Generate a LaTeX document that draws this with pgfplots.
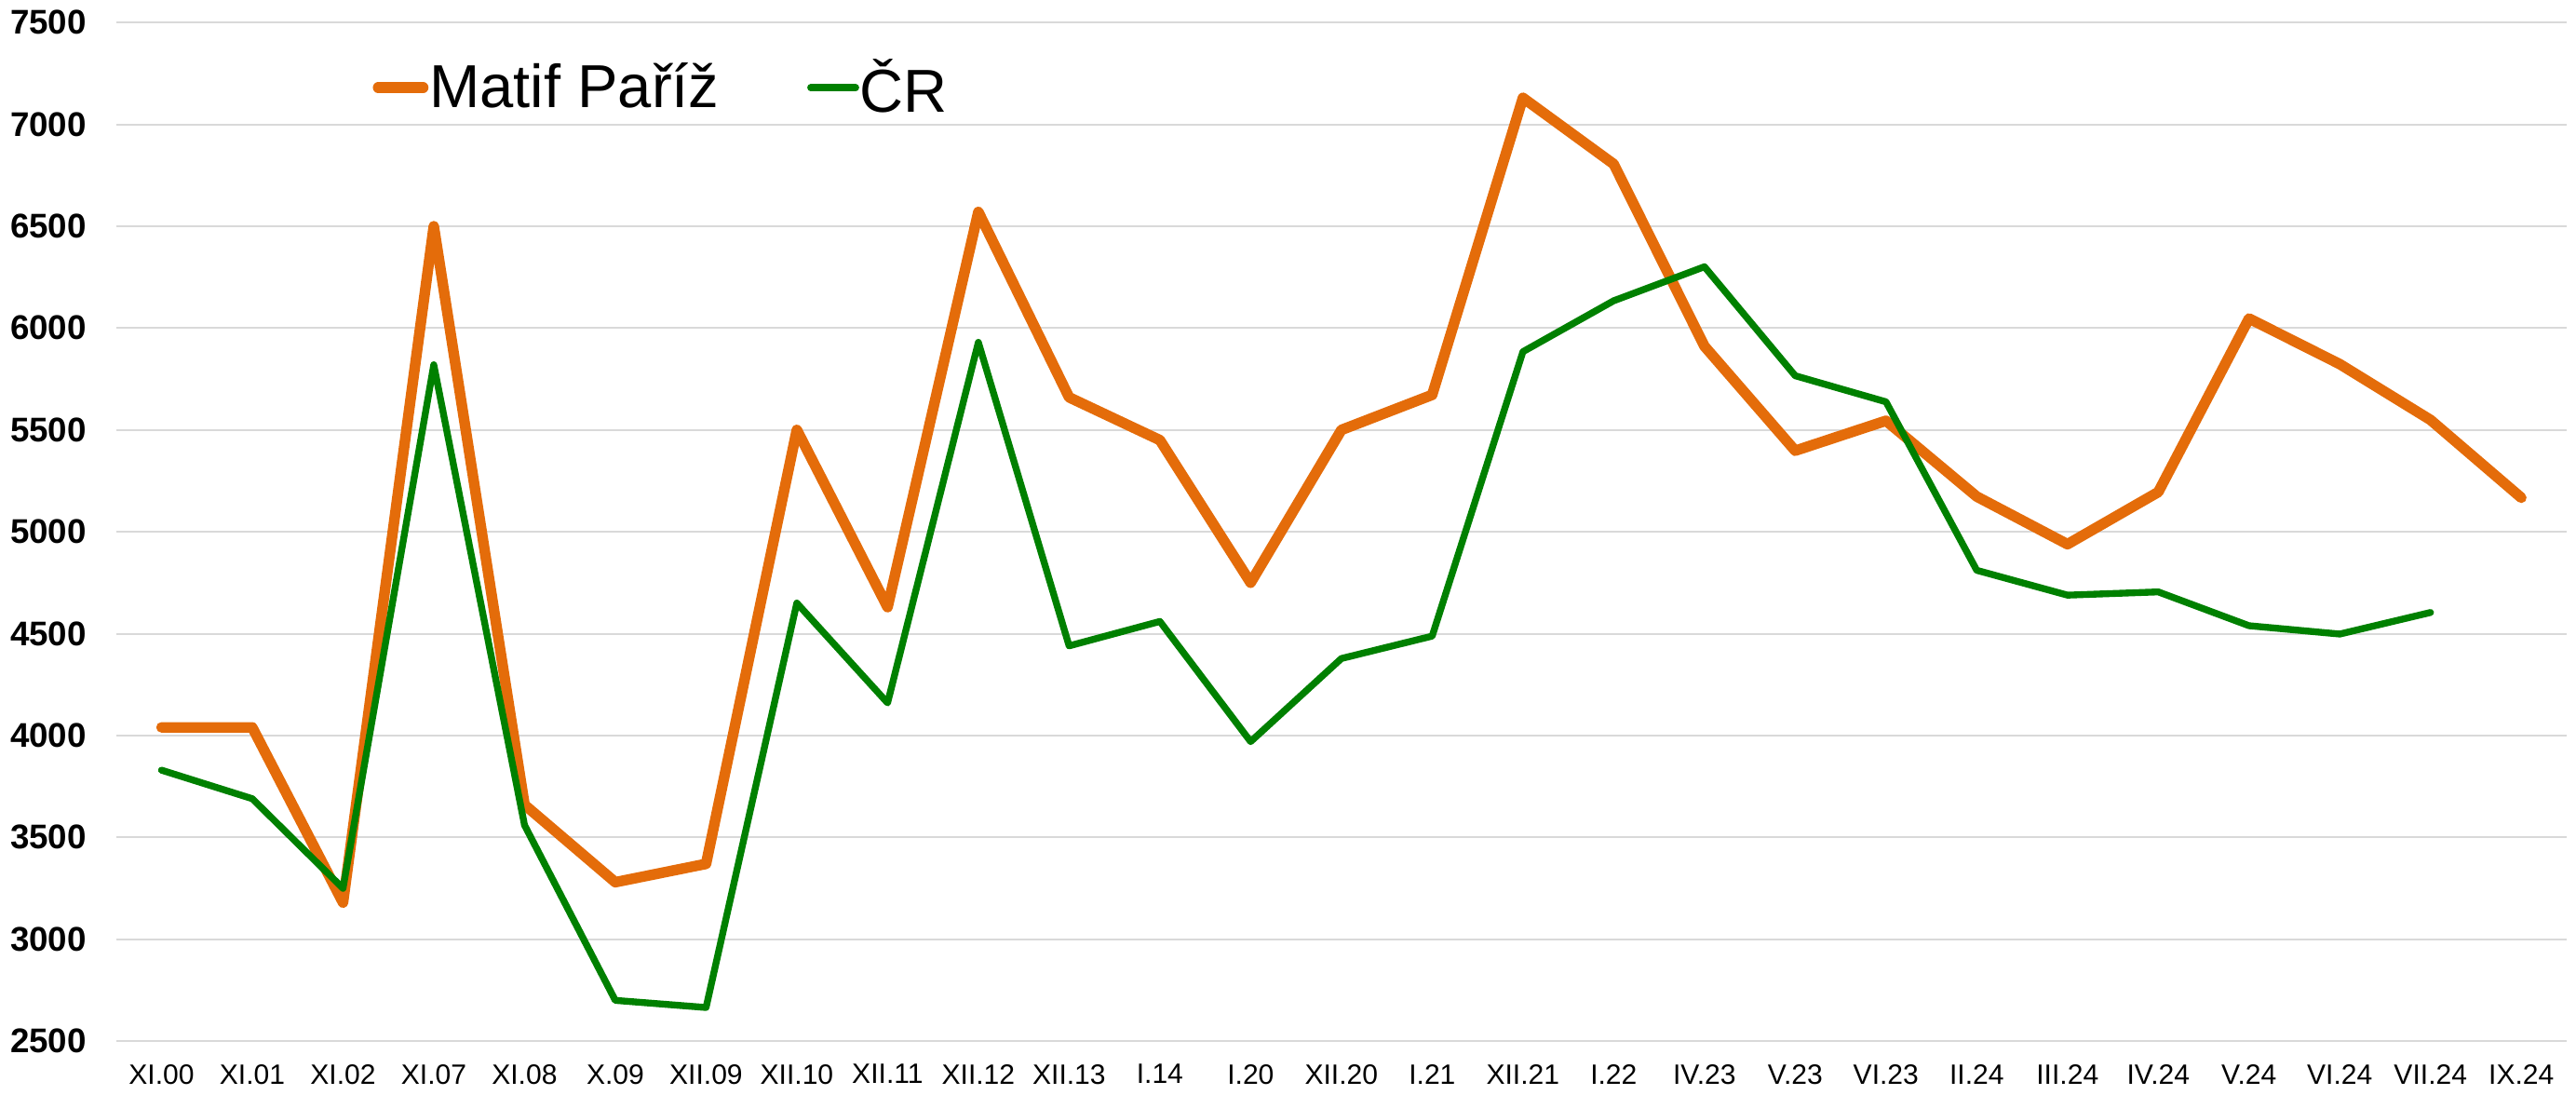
\documentclass[border=0pt]{standalone}
\usepackage{fontspec}
\setmainfont{Liberation Sans}
\usepackage{pgfplots}
\pgfplotsset{compat=1.18}
\definecolor{matif}{RGB}{228,108,10}
\definecolor{cr}{RGB}{0,128,0}
\definecolor{gridc}{RGB}{217,217,217}
\begin{document}
\begin{tikzpicture}
\begin{axis}[
  scale only axis,
  width=788pt, height=327.5pt,
  xmin=-0.5, xmax=26.5,
  ymin=2500, ymax=7500,
  ytick={2500,3000,...,7500},
  xtick={0,...,26},
  xticklabels={XI.00,XI.01,XI.02,XI.07,XI.08,X.09,XII.09,XII.10,XII.11,XII.12,XII.13,I.14,I.20,XII.20,I.21,XII.21,I.22,IV.23,V.23,VI.23,II.24,III.24,IV.24,V.24,VI.24,VII.24,IX.24},
  ymajorgrids,
  grid style={gridc, line width=0.6pt},
  axis line style={draw=none},
  major tick length=0pt,
  /pgf/number format/1000 sep={},
  /pgf/number format/assume math mode=true,
  yticklabel style={font=\fontsize{11}{13}\selectfont\bfseries, xshift=-6pt},
  xticklabel style={font=\fontsize{9}{11}\selectfont, yshift=-4pt},
  legend style={at={(rel axis cs:0.1045,0.936)}, anchor=west, draw=none, fill=none,
    font=\fontsize{19.5}{22}\selectfont, inner sep=0pt, nodes={inner sep=0.3pt},
    /tikz/every even column/.append style={column sep=28pt}},
  legend columns=2,
  legend image code/.code={\draw[#1, line cap=round] (1.5pt,0pt) -- (16pt,0pt);},
]
\addplot[matif, line width=3.4pt, line join=round, line cap=round] coordinates {
(0,4040) (1,4040) (2,3180) (3,6500) (4,3660) (5,3280) (6,3370) (7,5500) (8,4630)
(9,6570) (10,5660) (11,5450) (12,4750) (13,5500) (14,5672) (15,7130) (16,6805)
(17,5911) (18,5398) (19,5545) (20,5173) (21,4939) (22,5195) (23,6047) (24,5823)
(25,5549) (26,5167)};
\addlegendentry{Matif Paříž}
\addplot[cr, line width=2.2pt, line join=round, line cap=round] coordinates {
(0,3830) (1,3690) (2,3250) (3,5820) (4,3560) (5,2700) (6,2665) (7,4650) (8,4160)
(9,5930) (10,4440) (11,4560) (12,3970) (13,4378) (14,4488) (15,5884) (16,6134)
(17,6301) (18,5766) (19,5638) (20,4811) (21,4689) (22,4705) (23,4539) (24,4498)
(25,4604)};
\addlegendentry{ČR}
\end{axis}
\path (current bounding box.north east) ++(2.7pt,0pt) coordinate (extra);
\end{tikzpicture}
\end{document}
